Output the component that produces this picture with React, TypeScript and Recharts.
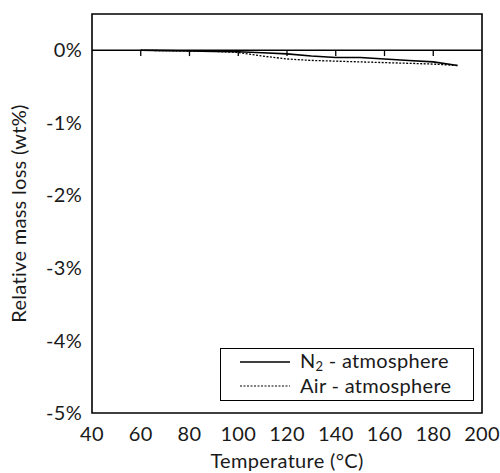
import React from "react";
import {
    LineChart, Line, XAxis, YAxis, ReferenceLine, ReferenceArea
} from "recharts";

const temperatures = [60, 70, 80, 90, 100, 110, 120, 130, 140, 150, 160, 170, 180, 190];
const n2Loss = [0, -0.005, -0.01, -0.015, -0.02, -0.035, -0.05, -0.08, -0.1, -0.1, -0.12, -0.14, -0.16, -0.21];
const airLoss = [0, -0.005, -0.01, -0.015, -0.03, -0.08, -0.12, -0.14, -0.15, -0.16, -0.17, -0.18, -0.19, -0.21];
const xTicks = [40, 60, 80, 100, 120, 140, 160, 180, 200];
const yTicks = [-5, -4, -3, -2, -1, 0];
const zeroTicks = [60, 80, 100, 120, 140, 160, 180];

const data = temperatures.map((t, i) => ({t, n2: n2Loss[i], air: airLoss[i]}));

const FONT = "Lato, 'Open Sans', sans-serif";
const TEXT = {fill: "#1a1a1a", fontSize: 20, fontFamily: FONT, letterSpacing: 0.3};

const LegendBox = () => (
    <div style={{
        position: "absolute", left: 220, top: 348, width: 254, height: 53,
        boxSizing: "border-box", border: "1.5px solid #000", background: "#fff",
        fontFamily: FONT, fontSize: 20, letterSpacing: 0.3, color: "#1a1a1a"
    }}>
        <svg width={80} height={50} style={{position: "absolute", left: 0, top: 0}}>
            <line x1={19} x2={69} y1={13} y2={13} stroke="#000" strokeWidth={1.5}/>
            <line x1={19} x2={69} y1={37} y2={37} stroke="#000" strokeWidth={1.2} strokeDasharray="2 1.5"/>
        </svg>
        <div style={{position: "absolute", left: 79, top: 0, lineHeight: "22px", height: 22}}>
            N<span style={{fontSize: 13, position: "relative", top: 3}}>2</span> - atmosphere
        </div>
        <div style={{position: "absolute", left: 79, top: 25, lineHeight: "22px", height: 22}}>
            Air - atmosphere
        </div>
    </div>
);

export default function App() {
    return (
        <div style={{position: "absolute", left: 0, top: 0, width: 500, height: 473, background: "#fff"}}>
            <LineChart width={500} height={473} data={data}
                       margin={{top: 14, right: 18, bottom: 0, left: 0}}>
                <XAxis dataKey="t" type="number" domain={[40, 200]} ticks={xTicks}
                       tickLine={false} axisLine={false} tickSize={0} tickMargin={14}
                       height={60} interval={0} tick={TEXT}
                       label={{value: "Temperature (°C)", position: "insideBottom", offset: 5, ...TEXT}}/>
                <YAxis type="number" domain={[-5, 0.5]} ticks={yTicks} allowDataOverflow
                       tickFormatter={(v: number) => v + "%"}
                       tickLine={false} axisLine={false} tickSize={0} tickMargin={10} width={92}
                       tick={TEXT}
                       label={{value: "Relative mass loss (wt%)", angle: -90, position: "insideLeft",
                           offset: 19, style: {textAnchor: "middle"}, ...TEXT}}/>
                <ReferenceArea x1={40} x2={200} y1={-5} y2={0.5} fill="none" fillOpacity={0}
                               stroke="#000" strokeWidth={1.6}/>
                <ReferenceLine y={0} stroke="#000" strokeWidth={1.3}/>
                {zeroTicks.map(x => (
                    <ReferenceLine key={x} segment={[{x, y: 0}, {x, y: -0.08}]}
                                   stroke="#000" strokeWidth={1.3}/>
                ))}
                <Line dataKey="n2" stroke="#000" strokeWidth={1.6} dot={false} isAnimationActive={false}/>
                <Line dataKey="air" stroke="#000" strokeWidth={1.3} strokeDasharray="2 1.5"
                      dot={false} isAnimationActive={false}/>
            </LineChart>
            <LegendBox/>
        </div>
    );
}
